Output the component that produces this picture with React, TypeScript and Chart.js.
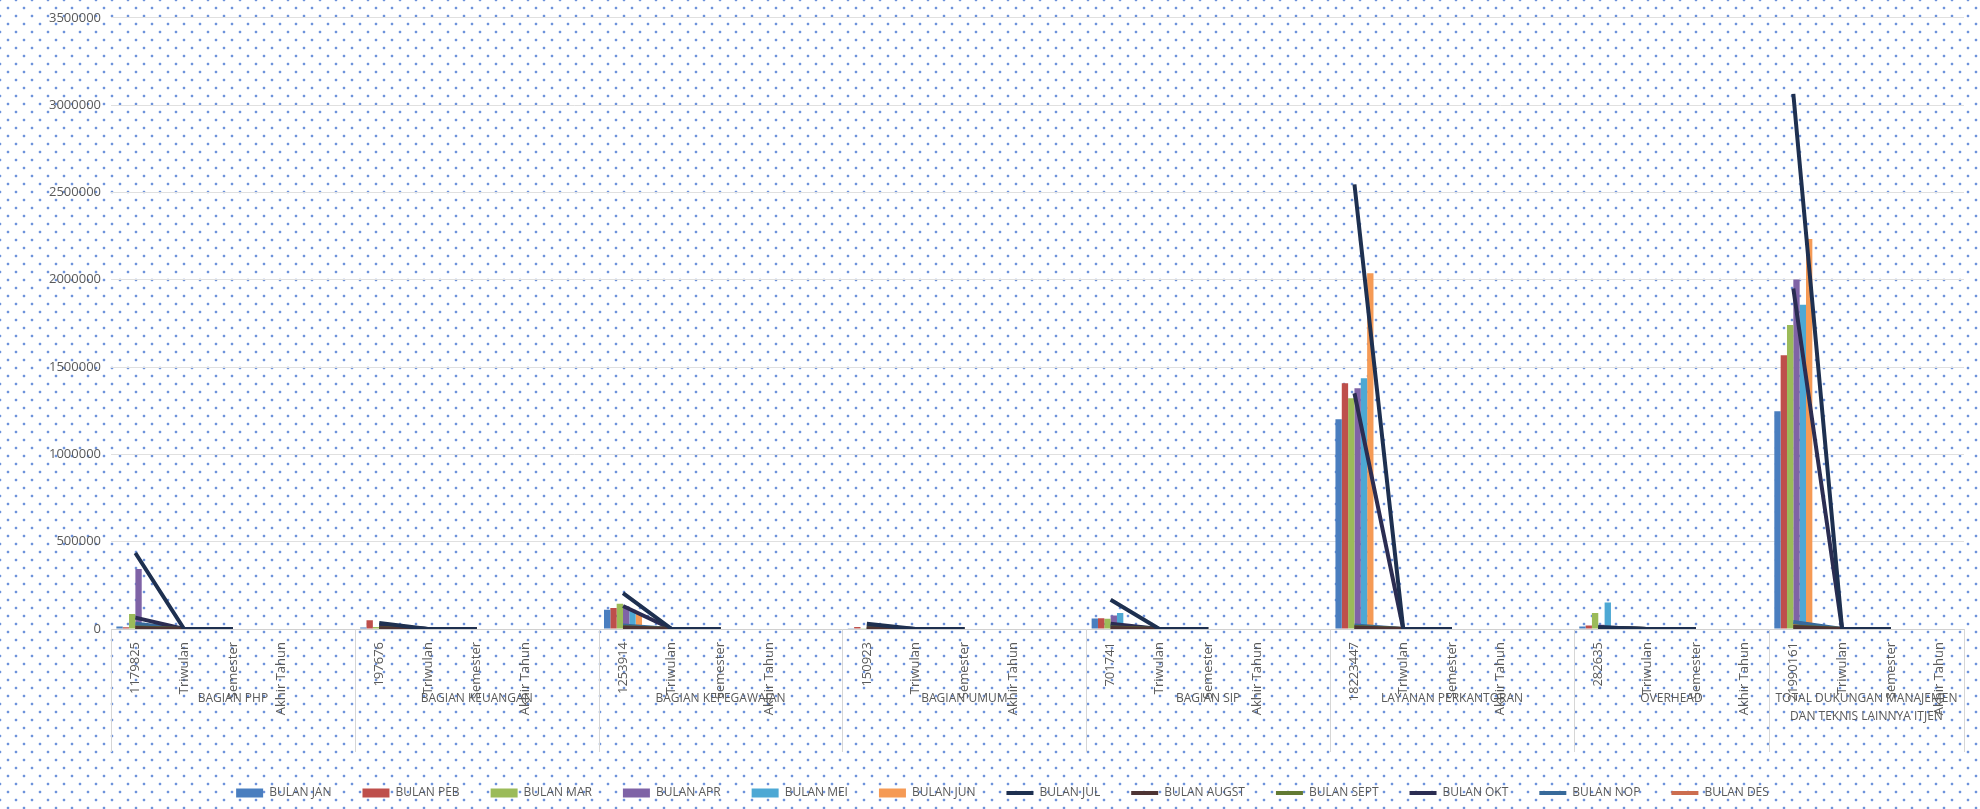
import React, { useEffect, useRef } from "react";
import { Chart, registerables } from "chart.js";

Chart.register(...registerables);

// ---------- DATA ----------
const groupNames: (string | string[])[] = [
  "BAGIAN PHP",
  "BAGIAN KEUANGAN",
  "BAGIAN KEPEGAWAIAN",
  "BAGIAN UMUM",
  "BAGIAN SIP",
  "LAYANAN PERKANTORAN",
  "OVERHEAD",
  ["TOTAL DUKUNGAN MANAJEMEN", "DAN TEKNIS LAINNYA ITJEN"],
];
const groupTotalLabels = ["1179825", "197676", "1253914", "150923", "701741", "18223447", "282635", "21990161"];
const periodLabels = ["Triwulan", "Semester", "Akhir Tahun"];
const groupHasBlankSlot = [true, true, true, true, true, true, false, false];

const barMonthNames = ["BULAN JAN", "BULAN PEB", "BULAN MAR", "BULAN APR", "BULAN MEI", "BULAN JUN"];
const lineMonthNames = ["BULAN JUL", "BULAN AUGST", "BULAN SEPT", "BULAN OKT", "BULAN NOP", "BULAN DES"];

// values per group (first category of each group)
const janValues = [15000, 8000, 110000, 4000, 60000, 1201000, 15000, 1247000];
const pebValues = [10000, 50000, 120000, 12000, 62000, 1407000, 20000, 1568000];
const marValues = [86000, 12000, 145000, 5000, 58000, 1322000, 92000, 1741000];
const aprValues = [343000, 10000, 130000, 5000, 78000, 1379000, 25000, 2001000];
const meiValues = [30000, 10000, 110000, 6000, 92000, 1436000, 152000, 1857000];
const junValues = [15000, 8000, 88000, 4000, 20000, 2037000, 15000, 2233000];
const julValues = [435000, 35000, 206000, 30000, 168000, 2546000, 10000, 3064000];
const augstValues = [6000, 4000, 8000, 3000, 6000, 9000, 4000, 12000];
const septValues = [8000, 5000, 10000, 3000, 8000, 12000, 5000, 15000];
const oktValues = [65000, 20000, 132000, 10000, 30000, 1350000, 10000, 1950000];
const nopValues = [30000, 10000, 20000, 5000, 20000, 20000, 6000, 40000];
const desValues = [10000, 5000, 12000, 3000, 8000, 15000, 4000, 20000];

const barColors = ["#4A7EBF", "#BE4F4B", "#9BBB59", "#7F63A6", "#4DA8D4", "#F59A55"];
const lineColors = ["#1E3050", "#4E3434", "#627A33", "#2B2D52", "#386A9A", "#CC6D4F"];

const yMin = 0;
const yMax = 3500000;
const yStep = 500000;

// ---------- DERIVED ----------
const categories: string[] = [];
const groupRanges: { start: number; end: number }[] = [];
groupNames.forEach((_, gi) => {
  const start = categories.length;
  categories.push(groupTotalLabels[gi], ...periodLabels);
  if (groupHasBlankSlot[gi]) categories.push("");
  groupRanges.push({ start, end: categories.length - 1 });
});

function barSeries(vals: number[]) {
  const data: (number | null)[] = categories.map(() => null);
  groupRanges.forEach((r, gi) => {
    data[r.start] = vals[gi];
  });
  return data;
}
function lineSeries(vals: number[]) {
  const data: (number | null)[] = categories.map(() => null);
  groupRanges.forEach((r, gi) => {
    data[r.start] = vals[gi];
    data[r.start + 1] = 0;
    data[r.start + 2] = 0;
  });
  return data;
}

const barValueSets = [janValues, pebValues, marValues, aprValues, meiValues, junValues];
const lineValueSets = [julValues, augstValues, septValues, oktValues, nopValues, desValues];

const FONT = "'Open Sans', 'Liberation Sans', sans-serif";
const TEXT = "#595959";

const groupLabelPlugin = {
  id: "groupLabelPlugin",
  afterDraw(chart: any) {
    const xs = chart.scales.x;
    const ctx = chart.ctx as CanvasRenderingContext2D;
    const half = (xs.getPixelForValue(1) - xs.getPixelForValue(0)) / 2;
    const top = chart.chartArea.bottom;
    const bottom = top + 123;
    ctx.save();
    ctx.strokeStyle = "#d6d6d6";
    ctx.lineWidth = 1;
    ctx.fillStyle = TEXT;
    ctx.font = `12px ${FONT}`;
    ctx.textAlign = "center";
    ctx.textBaseline = "middle";
    groupRanges.forEach((r, i) => {
      const left = xs.getPixelForValue(r.start) - half;
      const right = xs.getPixelForValue(r.end) + half;
      const lx = Math.round(left) + 0.5;
      ctx.beginPath();
      ctx.moveTo(lx, top);
      ctx.lineTo(lx, bottom);
      ctx.stroke();
      if (i === groupRanges.length - 1) {
        const rx = Math.round(right) + 0.5;
        ctx.beginPath();
        ctx.moveTo(rx, top);
        ctx.lineTo(rx, bottom);
        ctx.stroke();
      }
      const name = groupNames[i];
      const lines = Array.isArray(name) ? name : [name];
      lines.forEach((t, li) => {
        ctx.fillText(t, (left + right) / 2, top + 70 + li * 18);
      });
    });
    ctx.restore();
  },
};

export default function App() {
  const canvasRef = useRef<HTMLCanvasElement | null>(null);

  useEffect(() => {
    if (!canvasRef.current) return;
    const datasets: any[] = [];
    barValueSets.forEach((vals, i) => {
      datasets.push({
        type: "bar",
        label: barMonthNames[i],
        data: barSeries(vals),
        backgroundColor: barColors[i],
        borderColor: barColors[i],
        borderWidth: 0,
        barPercentage: 1,
        categoryPercentage: 0.78,
        order: 2,
      });
    });
    lineValueSets.forEach((vals, i) => {
      datasets.push({
        type: "line",
        label: lineMonthNames[i],
        data: lineSeries(vals),
        borderColor: lineColors[i],
        backgroundColor: lineColors[i],
        borderWidth: 4,
        pointRadius: 0,
        spanGaps: false,
        fill: false,
        tension: 0,
        order: i === 0 ? 0 : 1,
      });
    });

    const chart = new Chart(canvasRef.current, {
      type: "bar",
      data: { labels: categories, datasets },
      plugins: [groupLabelPlugin],
      options: {
        animation: false,
        responsive: false,
        devicePixelRatio: 1,
        layout: { padding: { left: 41, right: 16, top: 16, bottom: 0 } },
        scales: {
          x: {
            grid: { display: false },
            border: { display: true, color: "#d0d0d0" },
            ticks: {
              autoSkip: false,
              minRotation: 90,
              maxRotation: 90,
              padding: 5,
              color: TEXT,
              font: { family: FONT, size: 13 },
            },
            afterFit: (s: any) => {
              s.height = 127;
            },
          },
          y: {
            min: yMin,
            max: yMax,
            grid: { color: "#e0e0e0", drawTicks: false },
            border: { display: false },
            ticks: {
              stepSize: yStep,
              padding: 10,
              color: TEXT,
              font: { family: FONT, size: 13 },
              callback: (v: any) => String(v),
            },
            afterFit: (s: any) => {
              s.width = 70;
            },
          },
        },
        plugins: {
          tooltip: { enabled: false },
          legend: {
            position: "bottom",
            labels: {
              usePointStyle: true,
              pointStyleWidth: 27,
              boxHeight: 9,
              padding: 31,
              color: TEXT,
              font: { family: FONT, size: 12 },
              generateLabels: (c: any) =>
                c.data.datasets.map((ds: any, i: number) => {
                  const isLine = ds.type === "line";
                  return {
                    text: ds.label,
                    fillStyle: ds.backgroundColor,
                    strokeStyle: ds.borderColor,
                    lineWidth: isLine ? 4 : 0,
                    pointStyle: isLine ? "line" : "rect",
                    hidden: false,
                    datasetIndex: i,
                    fontColor: TEXT,
                  };
                }),
            },
          },
        },
      },
    });
    return () => chart.destroy();
  }, []);

  const dots =
    "radial-gradient(circle, rgba(85,128,212,0.85) 0.8px, rgba(100,140,218,0.3) 1.4px, rgba(255,255,255,0) 1.9px)";
  return (
    <div
      style={{
        position: "absolute",
        left: 0,
        top: 0,
        width: 1980,
        height: 809,
        backgroundColor: "#ffffff",
        backgroundImage: `${dots}, ${dots}`,
        backgroundSize: "16px 16px, 16px 16px",
        backgroundPosition: "0px 0px, 8px 8px",
      }}
    >
      <canvas ref={canvasRef} width={1980} height={809} style={{ display: "block" }} />
    </div>
  );
}
